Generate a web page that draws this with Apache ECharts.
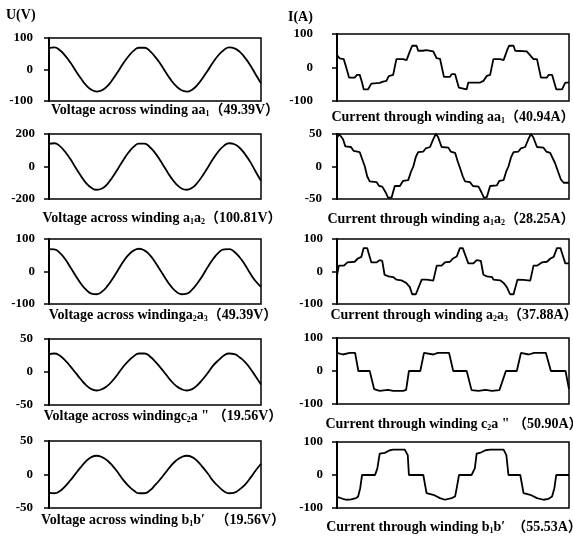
<!DOCTYPE html>
<html>
<head>
<meta charset="utf-8">
<title>winding waveforms</title>
<script src="https://cdn.jsdelivr.net/npm/echarts@6/dist/echarts.min.js"></script>
<style>
	body{margin:0;background:#ffffff;}
	#main{width:573px;height:536px;}
</style>
</head>
<body>
<div id="main"></div>
<script>
//采样位置（窗口宽度的百分比）
var vx=[0,2.5,5,7.5,10,12.5,15,17.5,20,22.5,25,27.5,30,32.5,35,37.5,40,42.5,45,47.5,50,52.5,55,57.5,60,62.5,65,67.5,70,72.5,75,77.5,80,82.5,85,87.5,90,92.5,95,97.5,100];

//电压 U(V)
var u_aa1=[68,70,62,45,23,-3,-28,-50,-64,-70,-66,-53,-32,-7,19,42,60,69,69,59,41,18,-8,-33,-53,-66,-70,-64,-49,-27,-2,24,46,62,70,67,56,37,13,-16,-44];
var u_a1a2=[139,143,127,92,47,-6,-57,-102,-131,-143,-135,-108,-65,-14,39,86,122,141,141,120,84,37,-16,-67,-108,-135,-143,-131,-100,-55,-4,49,94,127,143,137,114,75,27,-32,-88];
var u_a2a3=[69,68,58,39,14,-12,-37,-56,-68,-70,-62,-45,-22,4,30,51,65,70,65,51,29,4,-22,-45,-62,-70,-68,-56,-36,-12,15,39,58,68,69,60,43,20,-7,-30,-47];
var u_c2a=[27,28,25,18,9,-1,-11,-20,-26,-28,-26,-21,-13,-3,8,17,24,28,28,24,16,7,-3,-13,-21,-26,-28,-26,-20,-11,-1,10,18,25,28,27,22,15,5,-7,-19];
var u_b1b=[-27,-28,-25,-18,-9,1,11,20,26,28,26,21,13,3,-8,-17,-24,-28,-28,-24,-16,-7,3,13,21,26,28,26,20,11,1,-10,-18,-25,-28,-27,-22,-15,-5,6,16];

//电流 I(A)，[位置, 数值]
var i_aa1=[[0,37],[1.2,27],[2.9,25],[4.2,-5],[5.2,-30],[7.6,-30],[8.6,-22],[9.8,-22],[10.8,-45],[11.5,-65],[13.4,-65],[14.8,-48],[18.4,-46],[19.9,-42],[21.3,-40],[22.3,-26],[24.2,-22],[25.6,25],[28.5,25],[30.0,22],[31.4,48],[32.4,65],[34.3,65],[35.0,50],[37,50],[38.5,52],[41.5,48],[42.9,28],[44.4,26],[46.1,-28],[48.7,-28],[49.4,-20],[50.9,-20],[52.5,-60],[53.2,-65],[55.9,-65],[56.6,-45],[61.7,-45],[63.1,-40],[64.6,-25],[66.0,-22],[67.4,25],[70.3,25],[71.8,22],[73.5,55],[74.2,65],[76.1,65],[76.8,50],[81.8,48],[84.7,25],[86.2,25],[87.9,-30],[90.5,-30],[91.2,-22],[92.7,-22],[94.5,-65],[97.0,-65],[98.4,-45],[100,-45]];
var i_a1a2=[[0,44],[0.9,50],[2.6,42],[3.6,31],[6.0,30],[7.2,24],[9.8,22],[11.0,10],[12.0,0],[13.0,-15],[14.1,-23],[17.0,-24],[18.2,-30],[19.5,-31],[21.0,-40],[22.0,-48],[23.5,-48],[24.9,-30],[27.1,-30],[28.5,-22],[30.7,-21],[31.9,-8],[32.9,0],[34.0,15],[35.0,22],[37.2,23],[38.3,28],[40.1,30],[41.5,42],[42.6,50],[43.5,46],[45.1,30],[48.0,29],[49.0,23],[50.9,21],[52.0,8],[53.0,-2],[54.2,-15],[55.2,-23],[57.3,-24],[58.6,-30],[61.0,-31],[62.3,-40],[63.3,-48],[64.6,-47],[66.0,-30],[68.9,-29],[70.0,-22],[71.8,-21],[72.9,-8],[73.9,0],[75,14],[76.1,22],[78.2,23],[79.3,28],[81.1,30],[82.5,42],[83.6,50],[84.6,45],[86.2,30],[89.0,29],[90.2,23],[91.9,21],[94.0,5],[96.5,-20],[97.7,-25],[100,-25]];
var i_a2a3=[[0,-12],[0.8,18],[3.0,18],[4.5,28],[7.6,30],[9.0,40],[10.5,45],[11.5,72],[13.0,72],[14.8,28],[17.0,28],[18.4,35],[19.5,33],[20.5,-10],[22.2,-15],[24.2,-17],[25.6,-25],[27.7,-27],[29.8,-35],[31.4,-48],[32.4,-70],[34.0,-70],[36.5,-25],[38.6,-25],[41.5,-28],[43.0,18],[45.1,18],[46.5,28],[48.7,30],[50,40],[51.6,46],[53.0,72],[54.2,72],[56.6,25],[58.8,25],[60.2,35],[62.0,33],[63.1,-10],[64.6,-15],[66.9,-17],[67.4,-25],[70.3,-27],[71.8,-35],[73.2,-48],[74.6,-70],[76.1,-70],[77.8,-25],[80.4,-26],[83.3,-28],[84.7,18],[86.2,18],[88.3,28],[90.5,30],[92.0,40],[93.4,45],[94.8,72],[96.3,72],[98.4,25],[100,25]];
var i_c2a=[[0,55],[2.5,50],[5.5,55],[7.8,55],[9.2,0],[14.1,0],[16.0,-55],[18.4,-60],[22.0,-57],[24.2,-60],[28.5,-60],[29.8,-57],[31.0,0],[35.9,0],[37.5,55],[41.5,50],[43.5,55],[48.3,55],[50.1,0],[55.9,0],[58.0,-58],[61,-60],[64,-57],[66.8,-60],[70.0,-58],[72.8,0],[77.5,0],[79.3,55],[82.6,50],[85,55],[90,55],[92.2,0],[98.5,0],[100,-55]];
var i_b1b=[[0,-66],[2.5,-72],[4.0,-75],[6.1,-74],[8.2,-70],[9.1,-65],[10.0,-40],[10.8,0],[16.4,0],[17.4,20],[18.4,65],[20.6,67],[22.8,75],[24.2,77],[29.2,77],[30.5,60],[31.0,0],[37.2,0],[38.6,-55],[41.5,-60],[44.4,-70],[46.5,-75],[49.4,-70],[50.9,-65],[51.6,-40],[52.6,0],[58.0,0],[59.4,20],[60.2,65],[62.0,68],[64.0,75],[66.0,77],[71.8,77],[73.0,60],[73.9,0],[79.0,0],[80.4,-55],[83.3,-60],[86.2,-70],[89.0,-75],[91.2,-72],[92.7,-65],[93.7,-40],[94.5,0],[100,0]];

//纵轴范围
var u_range=[100,200,100,50,50];
var i_range=[100,50,100,100,100];

//图注
var u_caption=[
	'{n|Voltage across winding aa}{s|1}{n|（49.39V）}',
	'{n|Voltage across winding a}{s|1}{n|a}{s|2}{n|（100.81V）}',
	'{n|Voltage across windinga}{s|2}{n|a}{s|3}{n|（49.39V）}',
	'{n|Voltage across windingc}{s|2}{n|a " （19.56V）}',
	'{n|Voltage across winding b}{s|1}{n|b′   （19.56V）}'
];
var i_caption=[
	'{n|Current through winding aa}{s|1}{n|（40.94A）}',
	'{n|Current through winding a}{s|1}{n|a}{s|2}{n|（28.25A）}',
	'{n|Current through winding a}{s|2}{n|a}{s|3}{n|（37.88A）}',
	'{n|Current through winding c}{s|2}{n|a " （50.90A）}',
	'{n|Current through winding b}{s|1}{n|b′  （55.53A）}'
];

var FONT='"Liberation Serif","Times New Roman","Noto Sans CJK SC",serif';

//布局：[left, top, width, height, 标签间距]
var u_box=[[49,38,212,63,16],[49,134,212,65,14],[49,239,212,65,14],[49,339,212,66,16],[49,441,212,67,16]];
var i_box=[[337,34,232,67,24],[337,134,232,65,15],[337,239,232,65,14],[337,338,232,66,14],[337,442,232,66,14]];
//图注中心位置 [x, y]
var u_cap_pos=[[165,110],[162,218],[163,315],[163,416],[163,520]];
var i_cap_pos=[[453,117],[451,219],[454,315],[454,424],[454,527]];

var chart=echarts.init(document.getElementById('main'));

var grids=[],xAxes=[],yAxes=[],series=[],graphics=[];

function addPanel(box,range,data,smooth){
	var k=grids.length;
	grids.push({left:box[0],top:box[1],width:box[2],height:box[3],show:true,borderColor:'#000',borderWidth:1.5,backgroundColor:'#fff'});
	xAxes.push({gridIndex:k,type:'value',min:0,max:100,show:false});
	yAxes.push({
		gridIndex:k,type:'value',min:-range,max:range,interval:range,
		axisLine:{show:true,onZero:false,lineStyle:{color:'#000',width:2}},
		axisTick:{show:true,inside:false,length:5,lineStyle:{color:'#000',width:1.5}},
		splitLine:{show:false},
		axisLabel:{margin:box[4],color:'#000',fontFamily:FONT,fontWeight:'bold',fontSize:13}
	});
	series.push({
		type:'line',xAxisIndex:k,yAxisIndex:k,data:data,showSymbol:false,smooth:smooth,
		lineStyle:{color:'#000',width:1.8},animation:false
	});
}

var rich={
	n:{fontFamily:FONT,fontWeight:'bold',fontSize:14,lineHeight:16,fill:'#000'},
	s:{fontFamily:FONT,fontWeight:'bold',fontSize:8,lineHeight:8,verticalAlign:'bottom',fill:'#000'}
};

function addCaption(pos,text){
	graphics.push({type:'text',x:pos[0],y:pos[1],style:{text:text,rich:rich,align:'center',verticalAlign:'middle',fill:'#000'}});
}

var u_list=[u_aa1,u_a1a2,u_a2a3,u_c2a,u_b1b];
var i_list=[i_aa1,i_a1a2,i_a2a3,i_c2a,i_b1b];

for(var r=0;r<5;r++){
	var u=u_list[r];
	var pts=vx.map(function(x,j){return [x,u[j]];});
	addPanel(u_box[r],u_range[r],pts,true);
	addCaption(u_cap_pos[r],u_caption[r]);
}
for(var r=0;r<5;r++){
	addPanel(i_box[r],i_range[r],i_list[r],false);
	addCaption(i_cap_pos[r],i_caption[r]);
}

//坐标轴标题
graphics.push({type:'text',x:6,y:15,style:{text:'U(V)',font:'bold 14px '+FONT,fill:'#000',verticalAlign:'middle'}});
graphics.push({type:'text',x:288,y:17,style:{text:'I(A)',font:'bold 14px '+FONT,fill:'#000',verticalAlign:'middle'}});

chart.setOption({
	backgroundColor:'#ffffff',
	animation:false,
	grid:grids,
	xAxis:xAxes,
	yAxis:yAxes,
	series:series,
	graphic:graphics
});
</script>
</body>
</html>
